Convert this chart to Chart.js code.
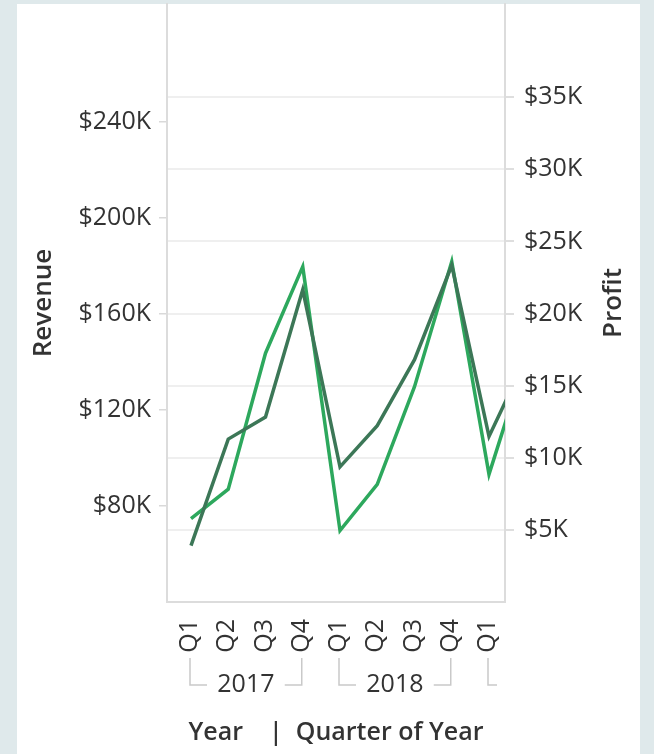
<!DOCTYPE html>
<html><head><meta charset="utf-8">
<script src="https://cdn.jsdelivr.net/npm/chart.js@4.4.0/dist/chart.umd.min.js"></script>
<style>
html,body{margin:0;padding:0;background:#dfe9eb;overflow:hidden}
#c{position:absolute;left:0;top:0}
</style></head><body>
<canvas id="c" width="654" height="754"></canvas>
<script>
// ---- data ----
const quarterLabels = ['Q1','Q2','Q3','Q4','Q1','Q2','Q3','Q4','Q1','Q2'];
const yearGroups = ['2017','2018','2019'];
const yearStart = [0, 4, 8];
const yearEnd = [3, 7, 11];
const revenue = [63500, 107900, 117100, 170100, 96300, 113500, 141000, 180300, 109000, 141800];
const profit  = [5780, 7820, 17250, 23250, 4950, 8160, 14930, 23600, 8850, 17000];
const revenueTicks = [80000, 120000, 160000, 200000, 240000];
const profitTicks = [5000, 10000, 15000, 20000, 25000, 30000, 35000];

const FONT = "'Open Sans', 'Noto Sans', sans-serif";
const TXT = '#333333';

function noPad(s) { s.paddingTop = 0; s.paddingBottom = 0; s.paddingLeft = 0; s.paddingRight = 0; }

const cardPlugin = {
  id: 'card',
  beforeDraw(chart) {
    const c = chart.ctx;
    c.save();
    c.fillStyle = '#ffffff';
    c.fillRect(17, 4, 623, 750);
    c.restore();
  },
  afterDraw(chart) {
    const c = chart.ctx;
    const xs = chart.scales.x;
    const area = chart.chartArea;
    c.save();
    c.fillStyle = TXT;
    c.font = '600 26px ' + FONT;
    c.textAlign = 'center';
    c.textBaseline = 'middle';
    c.translate(614, (area.top + area.bottom) / 2);
    c.rotate(-Math.PI / 2);
    c.fillText('Profit', 0, 0);
    c.restore();

    c.save();
    c.strokeStyle = '#c9c9c9';
    c.lineWidth = 1.5;
    c.fillStyle = TXT;
    c.font = '25px ' + FONT;
    c.textAlign = 'center';
    c.textBaseline = 'alphabetic';
    const yTop = 658, yBot = 685, arm = 17, clipRight = 497;
    yearGroups.forEach((lab, i) => {
      const x0 = xs.getPixelForValue(yearStart[i]) - 1;
      const x1 = xs.getPixelForValue(yearEnd[i]) - 1;
      if (x0 > clipRight) return;
      c.beginPath();
      c.moveTo(x0, yTop); c.lineTo(x0, yBot); c.lineTo(Math.min(x0 + arm, clipRight), yBot);
      c.stroke();
      if (x1 <= clipRight) {
        c.beginPath();
        c.moveTo(x1 - arm, yBot); c.lineTo(x1, yBot); c.lineTo(x1, yTop);
        c.stroke();
        c.fillText(lab, (x0 + x1) / 2, 692);
      }
    });
    c.restore();
  }
};

new Chart(document.getElementById('c'), {
  type: 'line',
  data: {
    datasets: [
      {
        label: 'Revenue',
        data: revenue.map((v, i) => ({x: i, y: v})),
        yAxisID: 'yRev',
        borderColor: '#3c7757',
        borderWidth: 3.5,
        pointRadius: 0,
        tension: 0,
        clip: 0
      },
      {
        label: 'Profit',
        data: profit.map((v, i) => ({x: i, y: v})),
        yAxisID: 'yProf',
        borderColor: '#2da85d',
        borderWidth: 3.5,
        pointRadius: 0,
        tension: 0,
        clip: 0
      }
    ]
  },
  options: {
    responsive: false,
    animation: false,
    devicePixelRatio: 1,
    layout: {padding: {left: 17, top: 4, right: 14, bottom: 0}},
    plugins: {legend: {display: false}, tooltip: {enabled: false}},
    scales: {
      x: {
        type: 'linear',
        position: 'bottom',
        min: -0.6443,
        max: 8.4295,
        afterBuildTicks: s => { s.ticks = quarterLabels.slice(0, 9).map((q, i) => ({value: i})); },
        afterFit: s => { s.height = 152; noPad(s); },
        grid: {display: false},
        border: {display: true, color: '#dcdcdc', width: 2},
        ticks: {
          callback: v => quarterLabels[v],
          minRotation: 90, maxRotation: 90, autoSkip: false,
          padding: 9, labelOffset: -1,
          color: TXT, font: {family: FONT, size: 25}
        },
        title: {
          display: true, text: 'Year    |  Quarter of Year',
          color: TXT, font: {family: FONT, size: 25, weight: '600'},
          padding: {top: 0, bottom: 6}
        }
      },
      yRev: {
        type: 'linear',
        position: 'left',
        min: 40000,
        max: 289200,
        afterBuildTicks: s => { s.ticks = revenueTicks.map(v => ({value: v})); },
        afterFit: s => { s.width = 150; noPad(s); },
        grid: {drawOnChartArea: false, tickLength: 8, tickColor: '#d9d9d9', lineWidth: 1.5},
        border: {display: true, color: '#dcdcdc', width: 2},
        ticks: {
          callback: v => '$' + (v / 1000) + 'K',
          padding: 8, color: TXT, font: {family: FONT, size: 25}
        },
        title: {
          display: true, text: 'Revenue',
          color: TXT, font: {family: FONT, size: 26, weight: '600'},
          padding: {top: 11, bottom: 0}
        }
      },
      yProf: {
        type: 'linear',
        position: 'right',
        min: 0,
        max: 41460,
        afterBuildTicks: s => { s.ticks = profitTicks.map(v => ({value: v})); },
        afterFit: s => { s.width = 135; noPad(s); },
        grid: {drawOnChartArea: true, color: '#efefef', lineWidth: 2, tickLength: 9, tickColor: '#dedede'},
        border: {display: true, color: '#dcdcdc', width: 2},
        ticks: {
          callback: v => '$' + (v / 1000) + 'K',
          padding: 10, color: TXT, font: {family: FONT, size: 25}
        },
        title: {display: false}
      }
    }
  },
  plugins: [cardPlugin]
});
</script>
</body></html>
